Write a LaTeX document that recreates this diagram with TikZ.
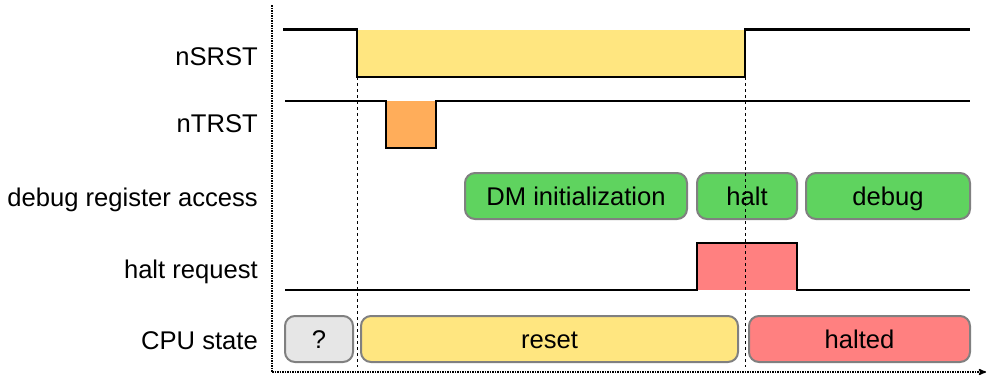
\documentclass[tikz,border=0pt]{standalone}
\usepackage{fontspec}
\setmainfont{Liberation Sans}
\usetikzlibrary{arrows}

\definecolor{rstyellow}{HTML}{FFE680}
\definecolor{trstorange}{HTML}{FFAD5A}
\definecolor{dbggreen}{HTML}{5FD35F}
\definecolor{haltred}{HTML}{FF8080}
\definecolor{unkgray}{HTML}{E6E6E6}
\definecolor{boxline}{HTML}{808080}

\begin{document}
\begin{tikzpicture}[x=1pt, y=-1pt, font=\fontsize{25.6}{30}\selectfont,
        wave/.style = {line width=2.2pt, line join=miter},
        lbl/.style = {anchor=base east, inner sep=0pt},
        state/.style = {draw=boxline, line width=2pt, rounded corners=10pt, minimum height=46pt,
                        text height=18pt, text depth=0pt, inner sep=0pt},
        guide/.style = {dashed, line width=0.8pt},
        axis/.style = {densely dotted, line width=1.5pt}]
        \useasboundingbox (0,0) rectangle (987,378);
        % signal names
        \node[lbl] (nsrst) at (258,65)  {nSRST};
        \node[lbl] (ntrst) at (258,132) {nTRST};
        \node[lbl] (dbg)   at (258,206) {debug register access};
        \node[lbl] (hreq)  at (258,278) {halt request};
        \node[lbl] (cpu)   at (258,349) {CPU state};
        % nSRST
        \fill[rstyellow] (357,29.5) rectangle (745,77);
        \draw[wave] (283,29.5) -- (357,29.5) -- (357,77) -- (745,77) -- (745,29.5) -- (970,29.5);
        % nTRST
        \fill[trstorange] (386,101) rectangle (436,148);
        \draw[wave] (285,101) -- (386,101) -- (386,148) -- (436,148) -- (436,101) -- (970,101);
        % debug register access
        \node[state, fill=dbggreen, minimum width=222pt] (init)  at (576,196) {DM initialization};
        \node[state, fill=dbggreen, minimum width=100pt] (halt)  at (747,196) {halt};
        \node[state, fill=dbggreen, minimum width=164pt] (debug) at (888,196) {debug};
        % halt request
        \fill[haltred] (697,243) rectangle (797,290);
        \draw[wave] (285,290) -- (697,290) -- (697,243) -- (797,243) -- (797,290) -- (970,290);
        % CPU state
        \node[state, fill=unkgray,   minimum width=68pt]  (unknown) at (319,339)   {?};
        \node[state, fill=rstyellow, minimum width=377pt] (reset)   at (549.5,339) {reset};
        \node[state, fill=haltred,   minimum width=221pt] (halted)  at (859.5,339) {halted};
        % edges of nSRST
        \coordinate (assert)   at (357,77);
        \coordinate (deassert) at (745,77);
        \draw[guide] (assert) -- (assert |- 0,367);
        \draw[guide] (deassert) -- (deassert |- 0,367);
        % axes
        \coordinate (top)    at (272,5);
        \coordinate (origin) at (272,372);
        \coordinate (time)   at (986,372);
        \draw[axis] (top) -- (origin);
        \draw[axis, -stealth'] (origin) -- (time);
\end{tikzpicture}
\end{document}
